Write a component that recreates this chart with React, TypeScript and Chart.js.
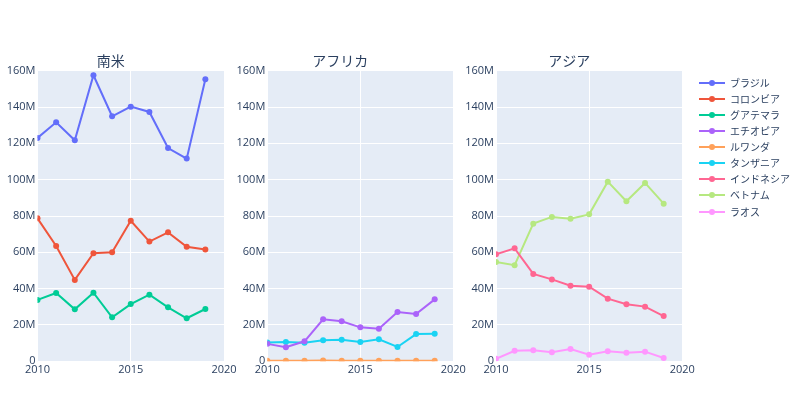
import React, { useEffect, useRef } from "react";
import { Chart, registerables } from "chart.js";

Chart.register(...registerables);

// ---- data (values in millions) ----
const years = [2010, 2011, 2012, 2013, 2014, 2015, 2016, 2017, 2018, 2019];
const xTickLabels = ["2010", "2015", "2020"];
const yTickLabels = ["0", "20M", "40M", "60M", "80M", "100M", "120M", "140M", "160M"];
const panelTitles = ["南米", "アフリカ", "アジア"];

const brazil = [123.0, 131.6, 121.7, 157.5, 134.9, 140.2, 137.3, 117.4, 111.6, 155.3];
const colombia = [78.7, 63.5, 44.8, 59.5, 60.0, 77.4, 65.9, 71.0, 63.1, 61.5];
const guatemala = [33.8, 37.6, 28.6, 37.8, 24.2, 31.5, 36.7, 29.7, 23.7, 28.8];
const ethiopia = [9.6, 7.7, 11.0, 23.1, 22.0, 18.7, 17.9, 27.1, 26.0, 34.1];
const rwanda = [0.3, 0.3, 0.3, 0.4, 0.3, 0.3, 0.3, 0.3, 0.3, 0.3];
const tanzania = [10.4, 10.6, 10.2, 11.6, 11.9, 10.6, 12.1, 7.9, 15.0, 15.2];
const indonesia = [58.9, 62.2, 48.1, 45.1, 41.6, 41.1, 34.5, 31.4, 30.1, 24.9];
const vietnam = [54.7, 52.9, 75.8, 79.5, 78.5, 80.9, 98.9, 88.1, 98.2, 86.8];
const laos = [1.4, 5.8, 6.1, 5.0, 6.8, 3.6, 5.5, 4.7, 5.3, 1.8];

const seriesNames = ["ブラジル", "コロンビア", "グアテマラ", "エチオピア", "ルワンダ", "タンザニア", "インドネシア", "ベトナム", "ラオス"];
const seriesValues = [brazil, colombia, guatemala, ethiopia, rwanda, tanzania, indonesia, vietnam, laos];
const seriesColors = ["#636efa", "#EF553B", "#00cc96", "#ab63fa", "#FFA15A", "#19d3f3", "#FF6692", "#B6E880", "#FF97FF"];
const panelSeries = [[0, 1, 2], [3, 4, 5], [6, 7, 8]];

// ---- layout ----
const W = 800;
const H = 419;
const plotLefts = [37.5, 267.3, 496];
const plotRights = [224, 453.3, 682.3];
const plotTop = 70.7;
const plotBottom = 361.3;
const yAxisW = 40;
const xAxisH = 22;
const titleSize = 14;
const FONT = '"Open Sans", "Noto Sans CJK JP", sans-serif';
const TEXT = "#2a3f5f";

const bgPlugin = {
  id: "plotBg",
  beforeDraw(chart: any) {
    const { ctx, chartArea } = chart;
    ctx.save();
    ctx.fillStyle = "#E5ECF6";
    ctx.fillRect(chartArea.left, chartArea.top, chartArea.right - chartArea.left, chartArea.bottom - chartArea.top);
    ctx.restore();
  },
};

function Panel({ index }: { index: number }) {
  const ref = useRef<HTMLCanvasElement | null>(null);
  useEffect(() => {
    if (!ref.current) return;
    const titleH = titleSize * 1.2;
    const padTop = plotTop - titleH;
    const chart = new Chart(ref.current, {
      type: "line",
      data: {
        datasets: panelSeries[index].map((si) => ({
          label: seriesNames[si],
          data: years.map((y, k) => ({ x: y, y: seriesValues[si][k] })),
          borderColor: seriesColors[si],
          backgroundColor: seriesColors[si],
          borderWidth: 2,
          pointRadius: 3,
          pointBorderWidth: 0,
          pointHoverRadius: 3,
          tension: 0,
        })),
      },
      options: {
        animation: false,
        responsive: false,
        devicePixelRatio: 1,
        layout: {
          padding: {
            left: plotLefts[index] - yAxisW,
            right: W - plotRights[index],
            top: padTop,
            bottom: H - plotBottom - xAxisH,
          },
        },
        plugins: {
          legend: { display: false },
          tooltip: { enabled: false },
          title: {
            display: true,
            text: panelTitles[index],
            color: TEXT,
            font: { family: FONT, size: titleSize, weight: "normal" },
            padding: { top: 0, bottom: 0 },
          },
        },
        scales: {
          x: {
            type: "linear",
            min: 2010,
            max: 2020,
            afterFit: (s: any) => {
              s.height = xAxisH;
            },
            ticks: {
              stepSize: 5,
              color: TEXT,
              padding: 2,
              maxRotation: 0,
              font: { family: FONT, size: 11 },
              callback: (v: any) => xTickLabels[Math.round((Number(v) - 2010) / 5)] ?? "",
            },
            grid: { color: "#ffffff", lineWidth: 1, drawTicks: false },
            border: { display: false },
          },
          y: {
            type: "linear",
            min: 0,
            max: 160,
            afterFit: (s: any) => {
              s.width = yAxisW;
            },
            ticks: {
              stepSize: 20,
              color: TEXT,
              padding: 2,
              font: { family: FONT, size: 11 },
              callback: (v: any) => yTickLabels[Math.round(Number(v) / 20)] ?? "",
            },
            grid: { color: "#ffffff", lineWidth: 1, drawTicks: false },
            border: { display: false },
          },
        },
      } as any,
      plugins: [bgPlugin],
    });
    return () => chart.destroy();
  }, [index]);
  return (
    <canvas
      ref={ref}
      width={W}
      height={H}
      style={{ position: "absolute", left: 0, top: 0, width: W, height: H }}
    />
  );
}

const legendTop = 82.7;
const legendStep = 16.1;

export default function App() {
  return (
    <div style={{ position: "fixed", left: 0, top: 0, width: W, height: H, background: "#ffffff", overflow: "hidden" }}>
      {[0, 1, 2].map((i) => (
        <Panel key={i} index={i} />
      ))}
      {seriesNames.map((name, i) => {
        const cy = legendTop + legendStep * i;
        return (
          <div key={name} style={{ position: "absolute", left: 699, top: cy - 8, height: 16, width: 100 }}>
            <div style={{ position: "absolute", left: 0, top: 7, width: 26, height: 2, background: seriesColors[i] }} />
            <div
              style={{
                position: "absolute",
                left: 10,
                top: 5,
                width: 6,
                height: 6,
                borderRadius: 3,
                background: seriesColors[i],
              }}
            />
            <div
              style={{
                position: "absolute",
                left: 31,
                top: 0,
                height: 16,
                lineHeight: "16px",
                fontSize: 10,
                fontFamily: FONT,
                color: TEXT,
                whiteSpace: "nowrap",
              }}
            >
              {name}
            </div>
          </div>
        );
      })}
    </div>
  );
}
